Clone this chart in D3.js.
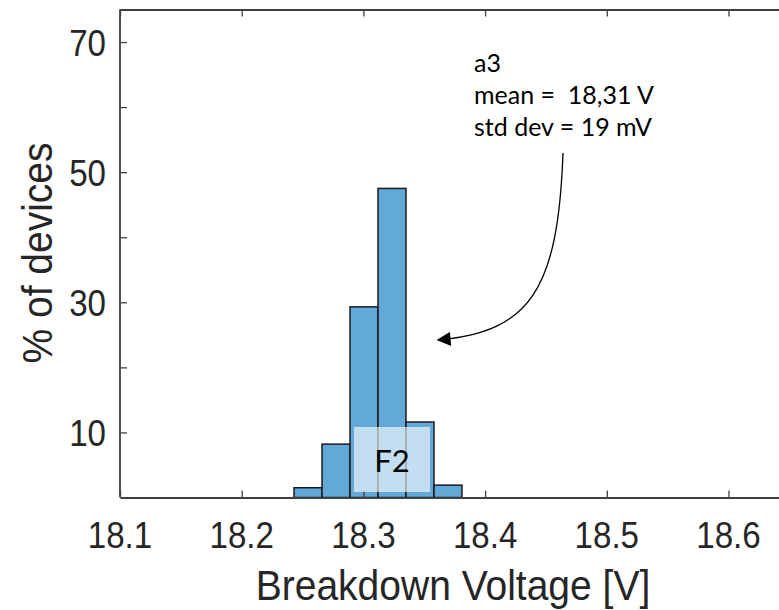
<!DOCTYPE html>
<html>
<head>
<meta charset="utf-8">
<script src="https://cdn.jsdelivr.net/npm/d3@7"></script>
<style>
  body { margin: 0; background: #fff; }
  text { font-family: "Liberation Sans", Arial, sans-serif; fill: #262626; }
  .note { font-family: Lato, "Open Sans", sans-serif; fill: #000; white-space: pre; }
</style>
</head>
<body>
<div id="chart"></div>
<script>
// histogram bin edges (V) and share of devices per bin (%)
var binEdges = [18.220, 18.243, 18.266, 18.289, 18.312, 18.335, 18.358, 18.381, 18.404];
var pct = [0, 1.5, 8.2, 29.3, 47.5, 11.6, 1.9, 0];

var xTicks = [18.1, 18.2, 18.3, 18.4, 18.5, 18.6];
var yTicks = [10, 20, 30, 40, 50, 60, 70];
var yLabels = [10, 30, 50, 70];

var noteLines = ["a3", "mean =  18,31 V", "std dev = 19 mV"];
var boxLabel = "F2";

var W = 779, H = 610;
var plotLeft = 120, plotTop = 9.5, plotBottom = 497.5;

var svg = d3.select("#chart")
  .append("svg")
  .attr("width", W)
  .attr("height", H);

var x = d3.scaleLinear()
  .domain([18.1, 18.65])
  .range([plotLeft, plotLeft + 0.55 * 1217]);

var y = d3.scaleLinear()
  .domain([0, 75])
  .range([plotBottom, plotTop]);

var bins = pct.map(function (v, i) {
  return { x0: binEdges[i], x1: binEdges[i + 1], value: v };
});

// bars
svg.selectAll("rect.bar")
  .data(bins)
  .enter()
  .append("rect")
  .attr("class", "bar")
  .attr("x", function (d) { return x(d.x0); })
  .attr("y", function (d) { return y(d.value); })
  .attr("width", function (d) { return x(d.x1) - x(d.x0); })
  .attr("height", function (d) { return y(0) - y(d.value); })
  .attr("fill", "#62a9d9")
  .attr("stroke", "#1a1a1a")
  .attr("stroke-width", 1.5);

// axes (inward ticks, boxed)
var xAxis = svg.append("g")
  .attr("transform", "translate(0," + plotBottom + ")")
  .call(d3.axisBottom(x).tickValues(xTicks).tickSizeInner(-7).tickSizeOuter(0).tickFormat(""));
var xTop = svg.append("g")
  .attr("transform", "translate(0," + plotTop + ")")
  .call(d3.axisTop(x).tickValues(xTicks).tickSizeInner(-7).tickSizeOuter(0).tickFormat(""));
var yAxis = svg.append("g")
  .attr("transform", "translate(" + plotLeft + ",0)")
  .call(d3.axisLeft(y).tickValues(yTicks).tickSizeInner(-7).tickSizeOuter(0).tickFormat(""));

[xAxis, xTop, yAxis].forEach(function (g) {
  g.select(".domain").attr("stroke", "#404040").attr("stroke-width", 1.8);
  g.selectAll(".tick line").attr("stroke", "#404040").attr("stroke-width", 1.3);
});
// left axis runs the full height of the box
yAxis.select(".domain").attr("d", "M0," + plotBottom + "V" + plotTop);

// tick labels
svg.selectAll("text.xt")
  .data(xTicks)
  .enter()
  .append("text")
  .attr("class", "xt")
  .attr("transform", function (d) { return "translate(" + x(d) + ",548) scale(0.92,1.05)"; })
  .attr("text-anchor", "middle")
  .style("font-size", "36px")
  .text(function (d) { return d.toFixed(1); });

svg.selectAll("text.yt")
  .data(yLabels)
  .enter()
  .append("text")
  .attr("class", "yt")
  .attr("transform", function (d) { return "translate(106," + (y(d) + 14) + ") scale(0.92,1.05)"; })
  .attr("text-anchor", "end")
  .style("font-size", "36px")
  .text(function (d) { return d; });

// axis titles
svg.append("text")
  .attr("transform", "translate(453,600) scale(1,1.08)")
  .attr("text-anchor", "middle")
  .style("font-size", "39px")
  .text("Breakdown Voltage [V]");

svg.append("text")
  .attr("transform", "translate(52,253) rotate(-90) scale(1,1.08)")
  .attr("text-anchor", "middle")
  .style("font-size", "39px")
  .text("% of devices");

// F2 label box
svg.append("rect")
  .attr("x", 354).attr("y", 427)
  .attr("width", 76).attr("height", 65)
  .attr("fill", "#fff")
  .attr("fill-opacity", 0.62);

svg.append("text")
  .attr("class", "note")
  .attr("x", 392).attr("y", 472)
  .attr("text-anchor", "middle")
  .style("font-size", "31px")
  .text(boxLabel);

// annotation
svg.selectAll("text.nl")
  .data(noteLines)
  .enter()
  .append("text")
  .attr("class", "note")
  .attr("x", 474)
  .attr("y", function (d, i) { return 72 + i * 32; })
  .style("font-size", "25px")
  .text(function (d) { return d; });

svg.append("defs").append("marker")
  .attr("id", "head")
  .attr("viewBox", "0 0 10 10")
  .attr("refX", 9).attr("refY", 5)
  .attr("markerWidth", 16).attr("markerHeight", 14)
  .attr("markerUnits", "userSpaceOnUse")
  .attr("orient", "auto")
  .append("path")
  .attr("d", "M0,0 L10,5 L0,10 Z")
  .attr("fill", "#000");

svg.append("path")
  .attr("d", "M563,153 C558,290 530,332 438,340")
  .attr("fill", "none")
  .attr("stroke", "#000")
  .attr("stroke-width", 1.3)
  .attr("marker-end", "url(#head)");
</script>
</body>
</html>
